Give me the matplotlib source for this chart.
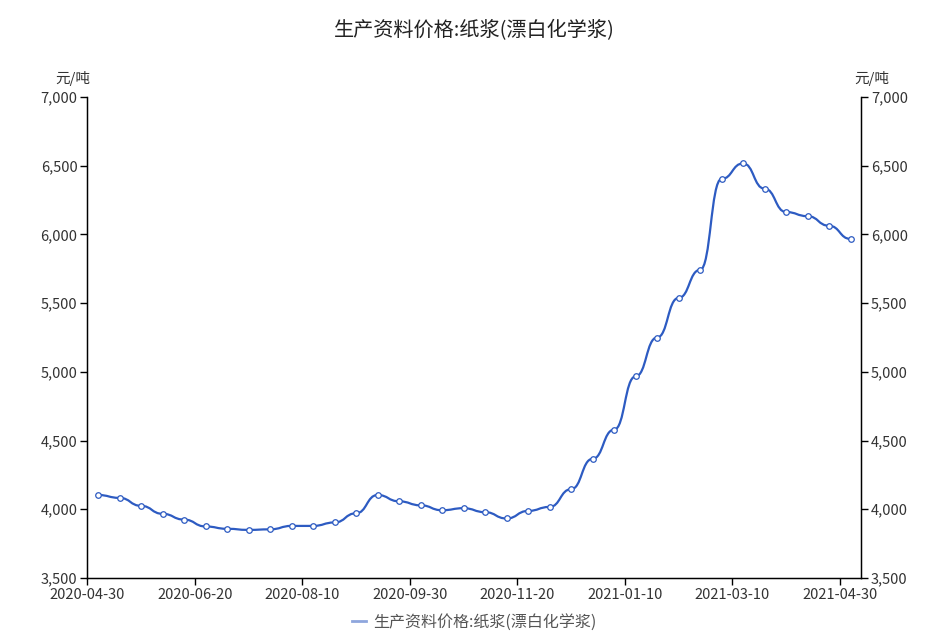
import matplotlib
matplotlib.use('Agg')
import matplotlib.pyplot as plt
from matplotlib.path import Path
from matplotlib.patches import PathPatch
from matplotlib.lines import Line2D
from matplotlib.ticker import FuncFormatter, MultipleLocator

plt.rcParams['font.family'] = ['Noto Sans CJK SC', 'DejaVu Sans']

title = '生产资料价格:纸浆(漂白化学浆)'
unit = '元/吨'

dates = ['2020-04-30', '2020-05-10', '2020-05-20', '2020-05-31', '2020-06-10',
         '2020-06-20', '2020-06-30', '2020-07-10', '2020-07-20', '2020-07-31',
         '2020-08-10', '2020-08-20', '2020-08-31', '2020-09-10', '2020-09-20',
         '2020-09-30', '2020-10-10', '2020-10-20', '2020-10-31', '2020-11-10',
         '2020-11-20', '2020-11-30', '2020-12-10', '2020-12-20', '2020-12-31',
         '2021-01-10', '2021-01-20', '2021-01-31', '2021-02-10', '2021-02-28',
         '2021-03-10', '2021-03-20', '2021-03-31', '2021-04-10', '2021-04-20',
         '2021-04-30']
prices = [4104, 4083, 4025, 3967, 3925, 3875, 3858, 3850, 3854, 3879,
          3879, 3904, 3971, 4104, 4058, 4029, 3993, 4008, 3979, 3933,
          3988, 4017, 4146, 4367, 4579, 4967, 5250, 5538, 5742, 6404,
          6517, 6333, 6163, 6133, 6063, 5967]

line_color = '#2d5bc2'
text_color = '#333333'

fig = plt.figure(figsize=(9.49, 6.41), dpi=100)
W, H = 949, 641
ax = fig.add_axes([87.3 / W, 1 - 578 / H, (861.3 - 87.3) / W, (578 - 97) / H])

x = list(range(len(prices)))

# smooth curve: cubic bezier with flat tangents at each point
verts = [(x[0], prices[0])]
codes = [Path.MOVETO]
for i in range(1, len(x)):
    verts += [(x[i - 1] + 0.5, prices[i - 1]), (x[i] - 0.5, prices[i]), (x[i], prices[i])]
    codes += [Path.CURVE4] * 3
ax.add_patch(PathPatch(Path(verts, codes), fill=False, edgecolor=line_color,
                       lw=1.6, capstyle='round', joinstyle='round', zorder=3))
ax.plot(x, prices, ls='none', marker='o', ms=4, mfc='white', mec=line_color,
        mew=0.9, zorder=4)

ax.set_xlim(-0.5, len(x) - 0.5)
ax.set_ylim(3500, 7000)
ax.yaxis.set_major_locator(MultipleLocator(500))
ax.yaxis.set_major_formatter(FuncFormatter(lambda v, p: f'{int(v):,}'))

tick_idx = list(range(0, len(dates), 5))
ax.set_xticks([i - 0.5 for i in tick_idx])
ax.set_xticklabels([dates[i] for i in tick_idx])

ax.spines['top'].set_visible(False)
for s in ['left', 'right', 'bottom']:
    ax.spines[s].set_color('#000000')
    ax.spines[s].set_linewidth(1)

ax.tick_params(axis='both', direction='out', length=5, width=1, colors='#000000',
               labelcolor=text_color, labelsize=10.5, pad=2)

ax2 = ax.twinx()
ax2.set_ylim(ax.get_ylim())
ax2.yaxis.set_major_locator(MultipleLocator(500))
ax2.yaxis.set_major_formatter(FuncFormatter(lambda v, p: f'{int(v):,}'))
ax2.tick_params(axis='y', direction='out', length=5, width=1, colors='#000000',
                labelcolor=text_color, labelsize=10.5, pad=2)
ax2.spines['top'].set_visible(False)

fig.text(474 / W, 1 - 31 / H, title, ha='center', va='center', fontsize=14.5,
         color='#222222')
fig.text(73 / W, 1 - 79 / H, unit, ha='center', va='center', fontsize=10.5,
         color=text_color)
fig.text(872 / W, 1 - 79 / H, unit, ha='center', va='center', fontsize=10.5,
         color=text_color)

handle = Line2D([], [], color='#8ea6dd', lw=2)
fig.legend([handle], [title], loc='center', bbox_to_anchor=(474 / W, 1 - 622 / H),
           frameon=False, fontsize=11.5, handlelength=0.9, handletextpad=0.4,
           labelcolor='#555555')

fig.savefig('out.png', dpi=100)
